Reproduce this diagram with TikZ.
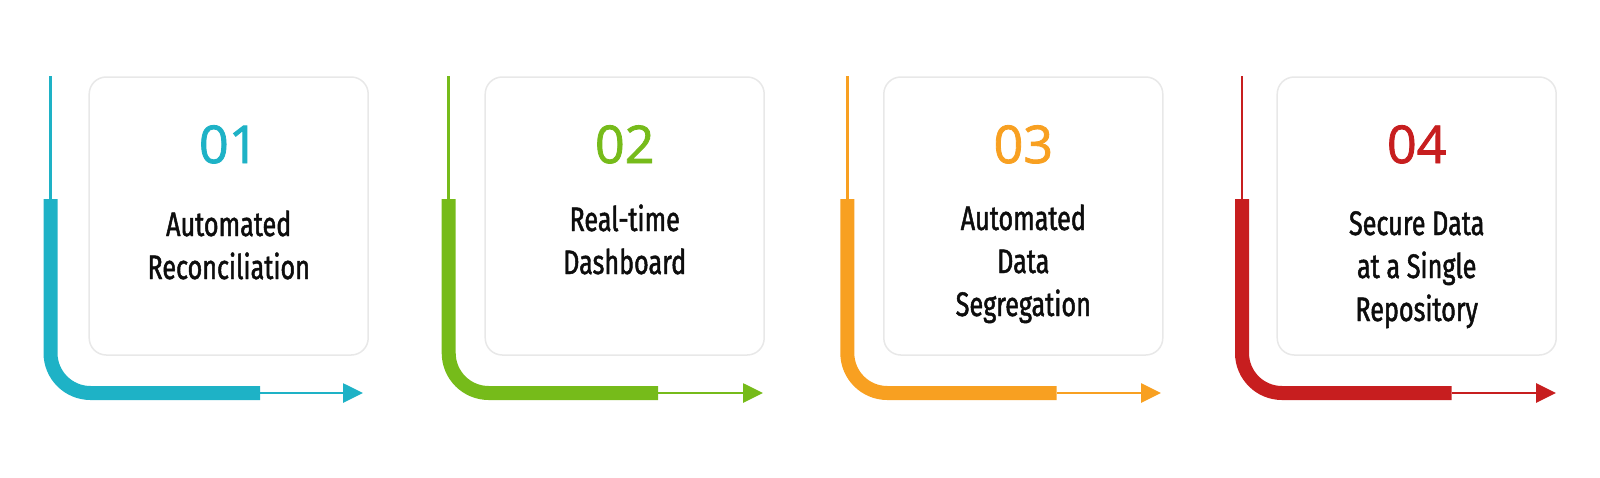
\documentclass[tikz,border=0pt]{standalone}
\usepackage{fontspec}
\usetikzlibrary{arrows.meta, positioning}

\newfontfamily\numfont{Open Sans}[FakeBold=1.6]
\newfontfamily\stepfont{Fira Sans}[FakeStretch=0.74, FakeBold=1.4]

\definecolor{stepteal}{HTML}{1EB2C6}
\definecolor{stepgreen}{HTML}{76BB1A}
\definecolor{steporange}{HTML}{F8A021}
\definecolor{stepred}{HTML}{C71E1F}

\begin{document}
\begin{tikzpicture}[
    x=1pt, y=-1pt,
    card/.style={draw=black!9, line width=1.5pt, fill=white, rounded corners=17pt,
                 minimum width=279pt, minimum height=278pt},
    num/.style={font=\numfont\fontsize{52}{52}\selectfont, anchor=base},
    desc/.style={font=\stepfont\fontsize{34}{43}\selectfont, align=center,
                 anchor=base, text=black!95},
    lead/.style={line width=2.7pt},
    bar/.style={line width=14pt, rounded corners=40pt},
    tail/.style={line width=2.7pt, -{Triangle[length=20pt, width=19pt]}},
]
\useasboundingbox (0,0) rectangle (1600,477);

% Step 1 (desc nodes sit on the baseline of their last line)
\node[card] (box1) at (228.7,216) {};
\node[num, text=stepteal] (num1) at (228.7,163) {01};
\node[desc] (txt1) at (228.7,279) {Automated\\Reconciliation};
\coordinate (top1) at (50.5,76);
\coordinate (mid1) at (50.5,199);
\coordinate (turn1) at (260,393);
\coordinate (end1) at (363,393);
\draw[lead, stepteal] (top1) -- (mid1);
\draw[bar, stepteal] (mid1) |- (turn1);
\draw[tail, stepteal] (turn1) -- (end1);

% Step 2
\node[card] (box2) at (624.7,216) {};
\node[num, text=stepgreen] (num2) at (624.7,163) {02};
\node[desc] (txt2) at (624.7,274) {Real-time\\Dashboard};
\coordinate (top2) at (448.7,76);
\coordinate (mid2) at (448.7,199);
\coordinate (turn2) at (658,393);
\coordinate (end2) at (763,393);
\draw[lead, stepgreen] (top2) -- (mid2);
\draw[bar, stepgreen] (mid2) |- (turn2);
\draw[tail, stepgreen] (turn2) -- (end2);

% Step 3
\node[card] (box3) at (1023.3,216) {};
\node[num, text=steporange] (num3) at (1023.3,163) {03};
\node[desc] (txt3) at (1023.3,316) {Automated\\Data\\Segregation};
\coordinate (top3) at (847.3,76);
\coordinate (mid3) at (847.3,199);
\coordinate (turn3) at (1056.7,393);
\coordinate (end3) at (1161,393);
\draw[lead, steporange] (top3) -- (mid3);
\draw[bar, steporange] (mid3) |- (turn3);
\draw[tail, steporange] (turn3) -- (end3);

% Step 4
\node[card] (box4) at (1416.7,216) {};
\node[num, text=stepred] (num4) at (1416.7,163) {04};
\node[desc] (txt4) at (1416.7,321) {Secure Data\\at a Single\\Repository};
\coordinate (top4) at (1242,76);
\coordinate (mid4) at (1242,199);
\coordinate (turn4) at (1451.7,393);
\coordinate (end4) at (1556,393);
\draw[lead, stepred] (top4) -- (mid4);
\draw[bar, stepred] (mid4) |- (turn4);
\draw[tail, stepred] (turn4) -- (end4);

\end{tikzpicture}
\end{document}
